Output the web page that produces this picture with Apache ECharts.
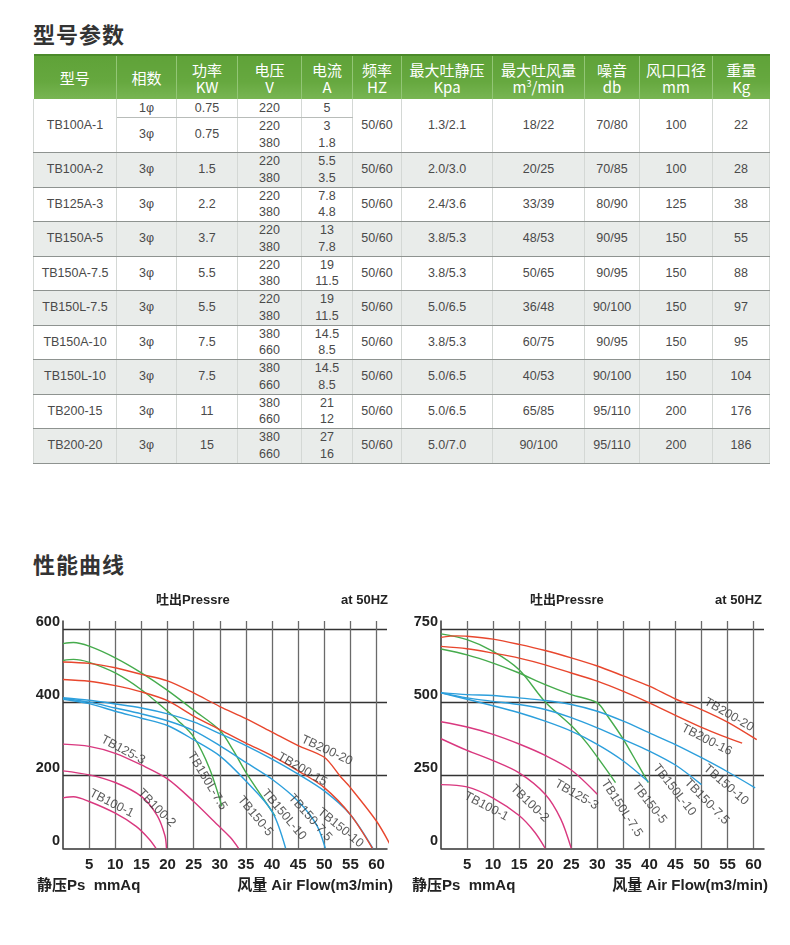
<!DOCTYPE html>
<html>
<head>
<meta charset="utf-8">
<script src="https://cdn.jsdelivr.net/npm/echarts@6/dist/echarts.min.js"></script>
<style>
body{margin:0;background:#fff;}
#page{position:relative;width:790px;height:945px;overflow:hidden;background:#fff;}
.h1{position:absolute;left:33px;font:bold 22px "Noto Sans CJK SC";color:#333;letter-spacing:1px;line-height:26px;}
#spec{position:absolute;left:33px;top:54px;border-collapse:collapse;table-layout:fixed;width:736px;}
#spec th{background:linear-gradient(#5fa238,#66a83f 60%,#78b553);color:#fff;font:15px "Noto Sans CJK SC","Liberation Sans";
  font-weight:normal;line-height:17px;border-right:1px solid #93c676;border-top:2px solid #4b8a2a;padding:0;height:43px;}
#spec th:last-child{border-right:none;}
#spec td{font:12.5px "Liberation Sans",Arial;color:#4a4a4a;text-align:center;padding:0;line-height:16.5px;
  border-right:1px solid #d4d8d5;border-bottom:1px solid #8e9390;}
#spec td:first-child{border-left:1px solid #d4d8d5;}
#spec tr.alt td{background:#e9ecea;}
#spec td.sub{border-bottom:1px solid #b8bcb9;}
#curves{position:absolute;left:0;top:580px;width:790px;height:365px;}
</style>
</head>
<body>
<div id="page">
  <div class="h1" style="top:20px">型号参数</div>
  <table id="spec"></table>
  <div class="h1" style="top:550px">性能曲线</div>
  <div id="curves"></div>
</div>
<script>
// ---- table data ----
const headTop = ['型号','相数','功率','电压','电流','频率','最大吐静压','最大吐风量','噪音','风口口径','重量'];
const headUnit = ['','','KW','V','A','HZ','Kpa','m<sup style="font-size:9px;line-height:0">3</sup>/min','db','mm','Kg'];
const colWidth = [83,60,61,64,51,49,91,92,55,73,57];
const models = ['TB100A-1','TB100A-2','TB125A-3','TB150A-5','TB150A-7.5','TB150L-7.5','TB150A-10','TB150L-10','TB200-15','TB200-20'];
const phase = [['1φ','3φ'],['3φ'],['3φ'],['3φ'],['3φ'],['3φ'],['3φ'],['3φ'],['3φ'],['3φ']];
const power = [['0.75','0.75'],['1.5'],['2.2'],['3.7'],['5.5'],['5.5'],['7.5'],['7.5'],['11'],['15']];
const voltage = [[['220'],['220','380']],[['220','380']],[['220','380']],[['220','380']],[['220','380']],
  [['220','380']],[['380','660']],[['380','660']],[['380','660']],[['380','660']]];
const current = [[['5'],['3','1.8']],[['5.5','3.5']],[['7.8','4.8']],[['13','7.8']],[['19','11.5']],
  [['19','11.5']],[['14.5','8.5']],[['14.5','8.5']],[['21','12']],[['27','16']]];
const freq = ['50/60','50/60','50/60','50/60','50/60','50/60','50/60','50/60','50/60','50/60'];
const pressure = ['1.3/2.1','2.0/3.0','2.4/3.6','3.8/5.3','3.8/5.3','5.0/6.5','3.8/5.3','5.0/6.5','5.0/6.5','5.0/7.0'];
const flow = ['18/22','20/25','33/39','48/53','50/65','36/48','60/75','40/53','65/85','90/100'];
const noise = ['70/80','70/85','80/90','90/95','90/95','90/100','90/95','90/100','95/110','95/110'];
const diameter = ['100','100','125','150','150','150','150','150','200','200'];
const weight = ['22','28','38','55','88','97','95','104','176','186'];

// ---- curve data, left chart (y: 静压 mmAq, x: 风量 m3/min) ----
const l_TB100_1 = [[0,138],[2,141],[5,128],[10,96],[14,60],[16.5,25],[17.8,0]];
const l_TB100_2 = [[0,212],[5,201],[10,180],[15,142],[18,90],[19.5,35],[19.8,0]];
const l_TB125_3 = [[0,285],[5,279],[10,260],[15,228],[20,190],[25,128],[29.5,65],[32,30],[33.6,0]];
const l_TB150L_7_5 = [[0,514],[2,517],[5,509],[10,480],[15,434],[20,375],[22,350],[25,305],[28,220],[30.4,115]];
const l_TB150L_10 = [[0,560],[2,563],[5,553],[10,521],[15,480],[20,432],[25,378],[30,323],[32.5,270],[35,208],[38,143],[40.6,88]];
const l_TB150_5 = [[0,408],[5,396],[10,375],[15,356],[20,336],[25,297],[30,253],[35,184],[40,101],[42.6,0]];
const l_TB150_7_5 = [[0,410],[5,400],[10,384],[15,368],[20,349],[25,322],[30,281],[35,235],[40,189],[45,129],[48.5,65],[50.2,0]];
const l_TB150_10 = [[0,412],[5,405],[10,395],[15,384],[20,368],[25,346],[30,314],[35,281],[40,244],[45,203],[50,157],[55,92],[59.3,0]];
const l_TB200_15 = [[0,462],[5,457],[10,445],[15,428],[20,404],[25,362],[30,325],[35,288],[40,253],[45,212],[50,166],[55,92],[59.2,0]];
const l_TB200_20 = [[0,510],[5,506],[10,494],[15,476],[20,458],[25,425],[30,388],[35,355],[40,318],[45,281],[50,249],[53,198],[55,166],[60,74],[62.8,5]];
// label: [text, x, y, rotate]
const l_labels = [['TB125-3',11.5,269,-28],['TB100-1',9.3,123,-27],['TB100-2',17.9,110,-45],['TB150L-7.5',27.6,184,-59],
  ['TB150-5',36.8,88,-50],['TB150L-10',42.3,92,-50],['TB150-7.5',47.3,84,-48],['TB150-10',53.1,56,-39],
  ['TB200-15',45.8,216,-30],['TB200-20',50.5,268,-25]];

// ---- curve data, right chart ----
const r_TB100_1 = [[0,218],[5,210],[10,172],[15,112],[18,55],[20,0]];
const r_TB100_2 = [[0,375],[5,335],[10,300],[15,258],[20,185],[23,100],[25,0]];
const r_TB125_3 = [[0,433],[5,415],[10,390],[15,357],[20,318],[25,268],[30,185]];
const r_TB150L_7_5 = [[0,734],[5,714],[10,674],[15,611],[20,501],[25,420],[28,360],[30.5,300],[33.5,225]];
const r_TB150L_10 = [[0,682],[5,662],[10,634],[15,600],[20,560],[25,526],[30,498],[32,452],[35,373],[37.8,287],[39.8,225]];
const r_TB150_5 = [[0,532],[5,510],[10,488],[15,464],[20,435],[25,401],[30,356],[35,299],[39.8,228]];
const r_TB150_7_5 = [[0,532],[5,515],[10,503],[15,492],[20,475],[25,447],[30,412],[35,373],[40,333],[45,285],[50,218]];
const r_TB150_10 = [[0,533],[5,526],[10,523],[15,515],[20,506],[25,492],[30,469],[35,435],[40,395],[45,355],[50,310],[55,262],[60.3,207]];
const r_TB200_16 = [[0,691],[5,683],[10,668],[15,651],[20,628],[25,600],[30,572],[35,537],[40,498],[45,455],[50,414],[54,385],[57.8,360]];
const r_TB200_20 = [[0,722],[3,727],[5,726],[10,716],[15,698],[20,677],[25,652],[30,624],[35,590],[40,555],[45,511],[50,475],[55,432],[60.6,372]];
const r_labels = [['TB100-1',8.7,143,-28],['TB100-2',17,154,-44],['TB125-3',26,183,-30],['TB150L-7.5',34.7,137,-57],
  ['TB150-5',40,154,-52],['TB150L-10',44.8,200,-52],['TB150-7.5',51,160,-46],['TB150-10',54.7,217,-41],
  ['TB200-16',51,371,-27],['TB200-20',55.3,457,-30]];

const pink = '#d9387f', green = '#45ab4c', blue = '#2c9fdc', red = '#e8462d';

// ---- build table ----
(function(){
  let t = document.getElementById('spec');
  let h = '<colgroup>' + colWidth.map(w => '<col style="width:' + w + 'px">').join('') + '</colgroup>';
  h += '<tr>' + headTop.map((s, i) => '<th>' + s + (headUnit[i] ? '<br>' + headUnit[i] : '') + '</th>').join('') + '</tr>';
  let stack = a => a.join('<br>');
  for (let i = 0; i < models.length; i++) {
    let cls = i % 2 === 1 ? ' class="alt"' : '';
    let tail = [freq[i], pressure[i], flow[i], noise[i], diameter[i], weight[i]];
    if (phase[i].length === 2) {
      let rs = ' rowspan="2"';
      h += '<tr' + cls + ' style="height:18px"><td' + rs + '>' + models[i] + '</td>' +
        '<td class="sub">' + phase[i][0] + '</td><td class="sub">' + power[i][0] + '</td>' +
        '<td class="sub">' + stack(voltage[i][0]) + '</td><td class="sub">' + stack(current[i][0]) + '</td>' +
        tail.map(s => '<td' + rs + '>' + s + '</td>').join('') + '</tr>';
      h += '<tr' + cls + ' style="height:35px"><td>' + phase[i][1] + '</td><td>' + power[i][1] + '</td>' +
        '<td>' + stack(voltage[i][1]) + '</td><td>' + stack(current[i][1]) + '</td></tr>';
    } else {
      let rh = i % 2 === 1 ? 35 : 34;
      h += '<tr' + cls + ' style="height:' + rh + 'px"><td>' + models[i] + '</td><td>' + phase[i][0] + '</td><td>' + power[i][0] + '</td>' +
        '<td>' + stack(voltage[i][0]) + '</td><td>' + stack(current[i][0]) + '</td>' +
        tail.map(s => '<td>' + s + '</td>').join('') + '</tr>';
    }
  }
  t.innerHTML = h;
})();

// ---- charts ----
let chart = echarts.init(document.getElementById('curves'));

function curve(name, data, color, idx){
  return {type:'line', name:name, data:data, xAxisIndex:idx, yAxisIndex:idx, smooth:0.3,
    symbol:'none', clip:false, lineStyle:{color:color, width:1.4}, silent:true, z:3};
}
function labels(list, idx){
  return {type:'scatter', xAxisIndex:idx, yAxisIndex:idx, symbolSize:0, silent:true, z:5,
    data:list.map(l => ({value:[l[1], l[2]], label:{show:true, position:'inside', formatter:l[0], rotate:l[3],
      color:'#333', fontSize:12.5, fontFamily:'Liberation Sans'}}))};
}
function xAxis(idx){
  return {type:'value', gridIndex:idx, min:0, max:62, interval:5,
    axisLine:{show:true, onZero:false, lineStyle:{color:'#333', width:1.5}}, axisTick:{show:false},
    axisLabel:{showMaxLabel:false, formatter:v => (v > 0 && v % 5 === 0) ? String(v) : '', color:'#222',
      fontSize:15, fontWeight:'bold', fontFamily:'Liberation Sans', margin:9},
    splitLine:{show:true, showMinLine:false, showMaxLine:false, lineStyle:{color:'#6a6a6a', width:1.3}}};
}
function yAxis(idx, max, step){
  return {type:'value', gridIndex:idx, min:0, max:max, interval:step,
    axisLine:{show:true, lineStyle:{color:'#333', width:1.5}}, axisTick:{show:false},
    axisLabel:{showMaxLabel:false, formatter:v => v % step === 0 ? String(v) : '', color:'#222',
      fontSize:14.5, fontWeight:'bold', fontFamily:'Liberation Sans', margin:3, verticalAlign:'bottom'},
    splitLine:{show:true, showMinLine:false, showMaxLine:false, lineStyle:{color:'#333', width:1.3}}};
}
function txt(x, y, s, size, align){
  return {type:'text', x:x, y:y, style:{text:s, font:'bold ' + size + 'px "Liberation Sans","Noto Sans CJK SC"',
    fill:'#222', align:align || 'left', verticalAlign:'middle'}};
}

chart.setOption({
  animation:false,
  grid:[{left:63, top:41, width:324, height:227.3}, {left:441, top:41, width:323, height:227.3}],
  xAxis:[xAxis(0), xAxis(1)],
  yAxis:[yAxis(0, 622, 200), yAxis(1, 778, 250)],
  graphic:[
    txt(156, 20, '吐出Pressre', 13), txt(388, 20, 'at 50HZ', 13, 'right'),
    txt(530, 20, '吐出Pressre', 13), txt(762, 20, 'at 50HZ', 13, 'right'),
    txt(37, 306, '静压Ps  mmAq', 15), txt(393, 306, '风量 Air Flow(m3/min)', 15, 'right'),
    txt(412, 306, '静压Ps  mmAq', 15), txt(768, 306, '风量 Air Flow(m3/min)', 15, 'right')
  ],
  series:[
    curve('TB100-1', l_TB100_1, pink, 0), curve('TB100-2', l_TB100_2, pink, 0), curve('TB125-3', l_TB125_3, pink, 0),
    curve('TB150L-7.5', l_TB150L_7_5, green, 0), curve('TB150L-10', l_TB150L_10, green, 0),
    curve('TB150-5', l_TB150_5, blue, 0), curve('TB150-7.5', l_TB150_7_5, blue, 0), curve('TB150-10', l_TB150_10, blue, 0),
    curve('TB200-15', l_TB200_15, red, 0), curve('TB200-20', l_TB200_20, red, 0),
    labels(l_labels, 0),
    curve('TB100-1', r_TB100_1, pink, 1), curve('TB100-2', r_TB100_2, pink, 1), curve('TB125-3', r_TB125_3, pink, 1),
    curve('TB150L-7.5', r_TB150L_7_5, green, 1), curve('TB150L-10', r_TB150L_10, green, 1),
    curve('TB150-5', r_TB150_5, blue, 1), curve('TB150-7.5', r_TB150_7_5, blue, 1), curve('TB150-10', r_TB150_10, blue, 1),
    curve('TB200-16', r_TB200_16, red, 1), curve('TB200-20', r_TB200_20, red, 1),
    labels(r_labels, 1)
  ]
});
</script>
</body>
</html>
